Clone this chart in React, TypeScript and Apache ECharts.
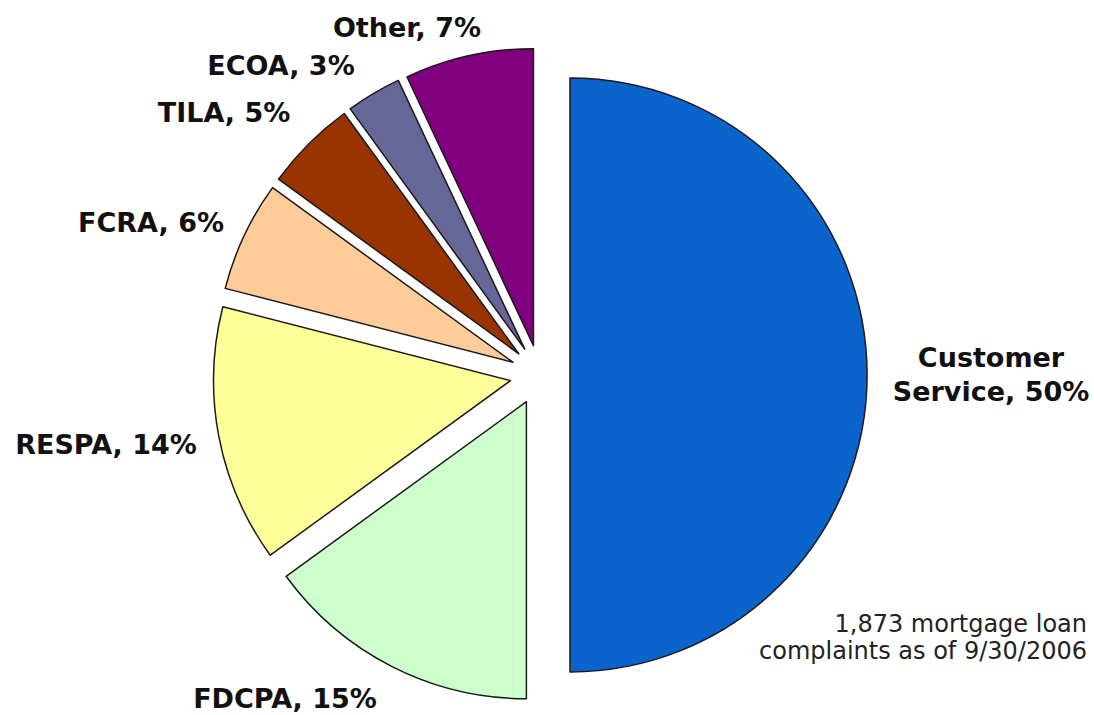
import React, { useEffect, useRef } from "react";
import * as echarts from "echarts";

// ---- data ----
const categories = ["Customer Service", "FDCPA", "RESPA", "FCRA", "TILA", "ECOA", "Other"];
const shares = [50, 15, 14, 6, 5, 3, 7];
const sliceColors = ["#0B63CC", "#CCFFCC", "#FFFF99", "#FFCC99", "#993300", "#666699", "#800080"];
const noteLines = ["1,873 mortgage loan", "complaints as of 9/30/2006"];

// ---- layout (label anchor points, px) ----
const labelAnchors: [number, number][] = [
  [991, 374],
  [285, 698],
  [106, 444],
  [151, 222],
  [224, 112],
  [281, 65],
  [407, 27],
];

function labelText(name: string, value: number) {
  const n = name.length > 12 ? name.replace(" ", "\n") : name;
  return `${n}, ${value}%`;
}

export default function App() {
  const ref = useRef<HTMLDivElement>(null);

  useEffect(() => {
    if (!ref.current) return;
    const chart = echarts.init(ref.current, undefined, { renderer: "svg" });
    const data = categories.map((name, i) => ({
      name,
      value: shares[i],
      selected: true,
      itemStyle: { color: sliceColors[i] },
    }));
    const labelGraphics = categories.map((name, i) => ({
      type: "text",
      x: labelAnchors[i][0],
      y: labelAnchors[i][1],
      style: {
        text: labelText(name, shares[i]),
        fontFamily: "DejaVu Sans",
        fontWeight: "bold",
        fontSize: 27,
        lineHeight: 34,
        fill: "#111111",
        textAlign: "center",
        textVerticalAlign: "middle",
      },
    }));
    chart.setOption({
      animation: false,
      backgroundColor: "#ffffff",
      series: [
        {
          type: "pie",
          center: [540, 375],
          radius: 297,
          startAngle: 90,
          clockwise: true,
          selectedMode: "multiple",
          selectedOffset: 30,
          avoidLabelOverlap: false,
          emphasis: { disabled: true },
          itemStyle: { borderColor: "#1a1a1a", borderWidth: 1.5 },
          label: { show: false },
          labelLine: { show: false },
          data,
        },
      ],
      graphic: [
        ...labelGraphics,
        {
          type: "text",
          x: 1087,
          y: 637,
          style: {
            text: noteLines.join("\n"),
            fontFamily: "DejaVu Sans",
            fontSize: 24,
            lineHeight: 27,
            fill: "#222222",
            textAlign: "right",
            textVerticalAlign: "middle",
          },
        },
      ],
    });
    return () => chart.dispose();
  }, []);

  return (
    <div
      ref={ref}
      style={{ position: "absolute", left: 0, top: 0, width: 1094, height: 715 }}
    />
  );
}
